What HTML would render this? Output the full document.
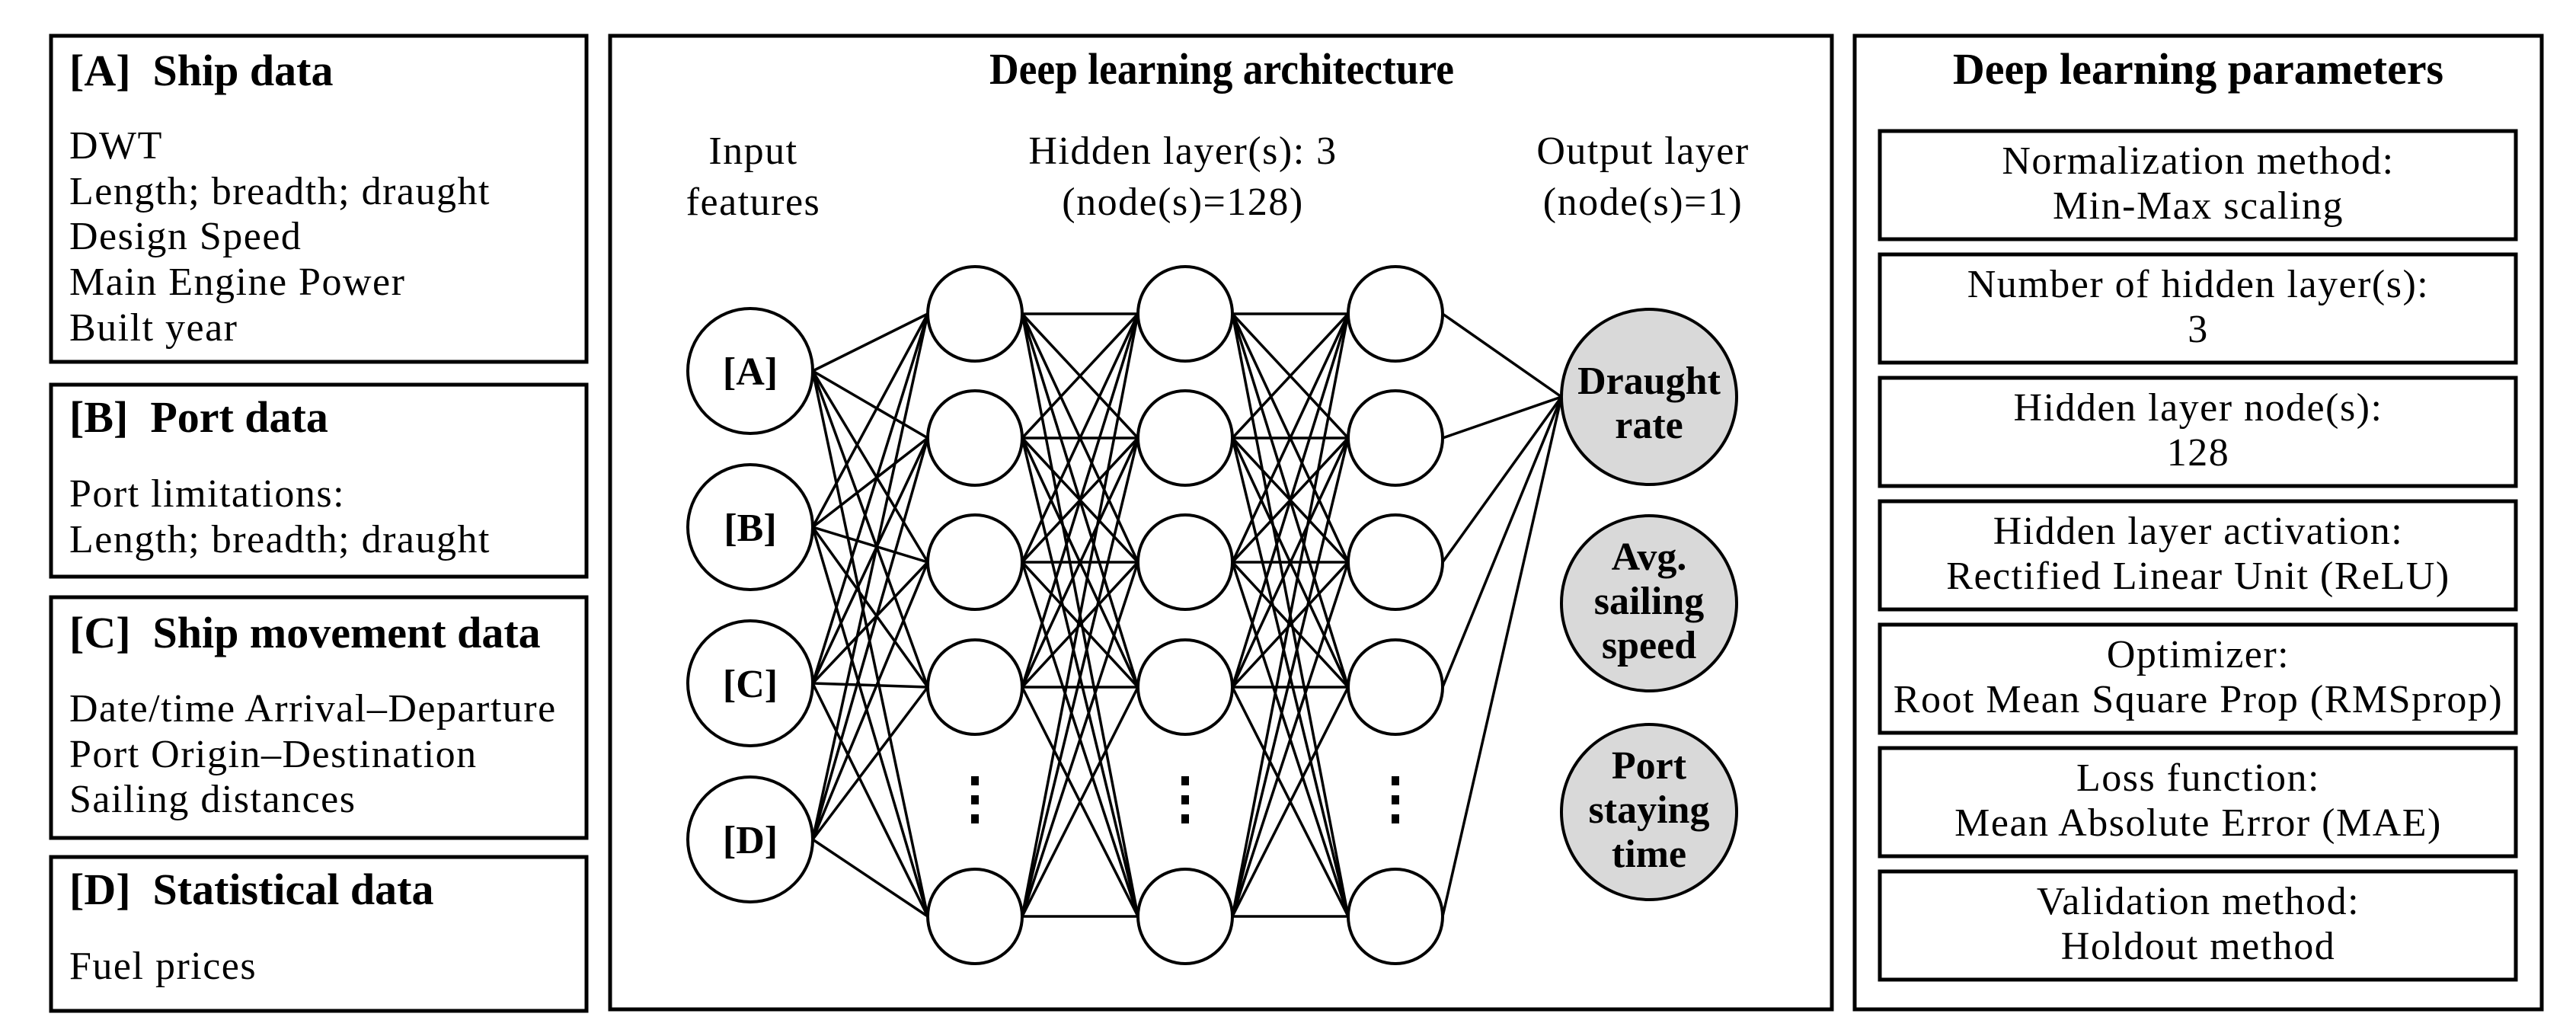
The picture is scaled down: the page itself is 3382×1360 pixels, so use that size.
<!DOCTYPE html>
<html><head><meta charset="utf-8"><style>
html,body{margin:0;padding:0;background:#fff;}
svg{display:block;}
text{font-family:"Liberation Serif",serif;fill:#000;}
.b{font-weight:bold;font-size:58px;letter-spacing:0;}
.r{font-size:52px;letter-spacing:1.5px;}
</style></head><body>
<svg width="3382" height="1360" viewBox="0 0 3382 1360" xmlns="http://www.w3.org/2000/svg">
<g fill="none" stroke="#000" stroke-width="5">
<rect x="67" y="47" width="703" height="428"/>
<rect x="67" y="505" width="703" height="252"/>
<rect x="67" y="784" width="703" height="316"/>
<rect x="67" y="1125" width="703" height="202"/>
<rect x="801" y="47" width="1604" height="1278"/>
<rect x="2435" y="47" width="902" height="1278"/>
<rect x="2468" y="172" width="835" height="142"/>
<rect x="2468" y="334" width="835" height="142"/>
<rect x="2468" y="496" width="835" height="142"/>
<rect x="2468" y="658" width="835" height="142"/>
<rect x="2468" y="820" width="835" height="142"/>
<rect x="2468" y="982" width="835" height="142"/>
<rect x="2468" y="1144" width="835" height="142"/>
</g>
<g class="r">
<text x="91" y="112" class="b">[A]&#160; Ship data</text>
<text x="91" y="208">DWT</text>
<text x="91" y="268">Length; breadth; draught</text>
<text x="91" y="327">Design Speed</text>
<text x="91" y="387">Main Engine Power</text>
<text x="91" y="447">Built year</text>
<text x="91" y="567" class="b">[B]&#160; Port data</text>
<text x="91" y="665">Port limitations:</text>
<text x="91" y="725">Length; breadth; draught</text>
<text x="91" y="850" class="b">[C]&#160; Ship movement data</text>
<text x="91" y="947">Date/time Arrival–Departure</text>
<text x="91" y="1007">Port Origin–Destination</text>
<text x="91" y="1066">Sailing distances</text>
<text x="91" y="1187" class="b">[D]&#160; Statistical data</text>
<text x="91" y="1285">Fuel prices</text>
</g>
<g class="r" text-anchor="middle">
<text x="1604" y="110" class="b" textLength="610" lengthAdjust="spacingAndGlyphs">Deep learning architecture</text>
<text x="989" y="215">Input</text>
<text x="989" y="282">features</text>
<text x="1553" y="215">Hidden layer(s): 3</text>
<text x="1553" y="282">(node(s)=128)</text>
<text x="2157" y="215">Output layer</text>
<text x="2157" y="282">(node(s)=1)</text>
<text x="2886" y="110" class="b">Deep learning parameters</text>
<text x="2886" y="228">Normalization method:</text>
<text x="2886" y="287">Min-Max scaling</text>
<text x="2886" y="390">Number of hidden layer(s):</text>
<text x="2886" y="449">3</text>
<text x="2886" y="552">Hidden layer node(s):</text>
<text x="2886" y="611">128</text>
<text x="2886" y="714">Hidden layer activation:</text>
<text x="2886" y="773">Rectified Linear Unit (ReLU)</text>
<text x="2886" y="876">Optimizer:</text>
<text x="2886" y="935">Root Mean Square Prop (RMSprop)</text>
<text x="2886" y="1038">Loss function:</text>
<text x="2886" y="1097">Mean Absolute Error (MAE)</text>
<text x="2886" y="1200">Validation method:</text>
<text x="2886" y="1259">Holdout method</text>
</g>
<g id="net" stroke="#000" stroke-width="3.5" fill="none"></g>
<g id="nodes"></g>
<script>
var ns="http://www.w3.org/2000/svg";
var net=document.getElementById('net'),nodes=document.getElementById('nodes');
function L(x1,y1,x2,y2){var l=document.createElementNS(ns,'line');l.setAttribute('x1',x1);l.setAttribute('y1',y1);l.setAttribute('x2',x2);l.setAttribute('y2',y2);net.appendChild(l);}
function C(x,y,r,f){var c=document.createElementNS(ns,'circle');c.setAttribute('cx',x);c.setAttribute('cy',y);c.setAttribute('r',r);c.setAttribute('fill',f);c.setAttribute('stroke','#000');c.setAttribute('stroke-width','4');nodes.appendChild(c);}
function T(x,y,s){var t=document.createElementNS(ns,'text');t.setAttribute('x',x);t.setAttribute('y',y);t.setAttribute('text-anchor','middle');t.setAttribute('font-size','52');t.setAttribute('font-weight','bold');t.textContent=s;nodes.appendChild(t);}
var ix=985,ir=82,iy=[487,692,897,1102];
var hx=[1280,1556,1832],hr=62,hy=[412,575,738,902,1203];
var ox=2165,orr=115,oy=[521,792,1066];
iy.forEach(function(a){hy.forEach(function(b){L(ix+ir,a,hx[0]-hr,b);});});
for(var k=0;k<2;k++){hy.forEach(function(a){hy.forEach(function(b){L(hx[k]+hr,a,hx[k+1]-hr,b);});});}
hy.forEach(function(a){L(hx[2]+hr,a,ox-orr,oy[0]);});
iy.forEach(function(y,i){C(ix,y,ir,'#fff');T(ix,y+18,['[A]','[B]','[C]','[D]'][i]);});
hx.forEach(function(x){hy.forEach(function(y){C(x,y,hr,'#fff');});
 [1025,1050,1075].forEach(function(d){var r=document.createElementNS(ns,'rect');r.setAttribute('x',x-5);r.setAttribute('y',d-6);r.setAttribute('width',10);r.setAttribute('height',12);nodes.appendChild(r);});});
oy.forEach(function(y){C(ox,y,orr,'#d9d9d9');});
T(ox,517,'Draught');T(ox,575,'rate');
T(ox,748,'Avg.');T(ox,806,'sailing');T(ox,864,'speed');
T(ox,1022,'Port');T(ox,1080,'staying');T(ox,1138,'time');
</script>
</svg>
</body></html>
